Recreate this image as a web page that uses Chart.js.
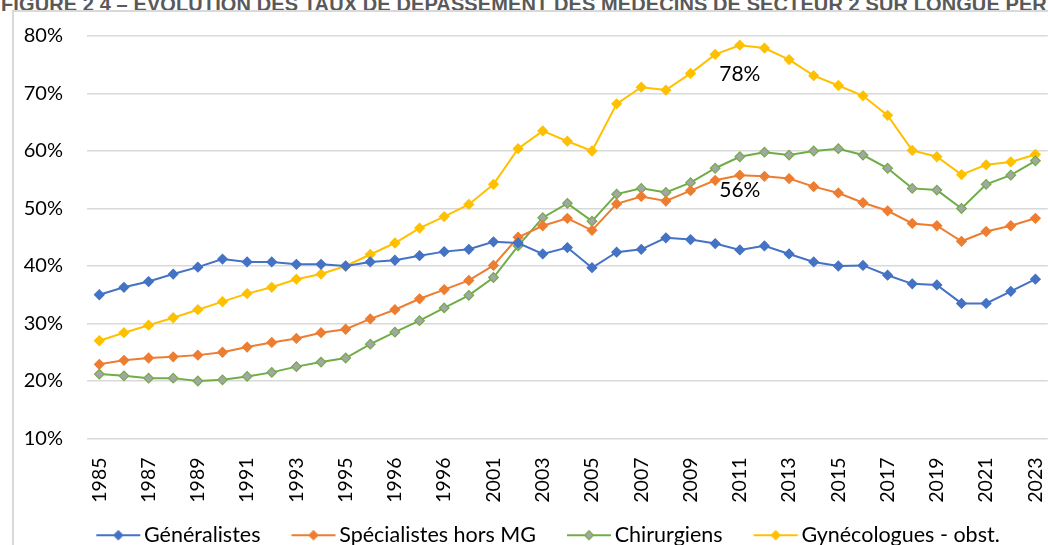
<!DOCTYPE html>
<html lang="fr">
<head>
<meta charset="utf-8">
<title>Taux de dépassement - secteur 2</title>
<script src="https://cdn.jsdelivr.net/npm/chart.js@4/dist/chart.umd.min.js"></script>
<style>
  html, body { margin: 0; padding: 0; background: #fff; overflow: hidden; width: 1048px; height: 545px; }
  #title {
    position: absolute; left: 1px; top: -7px; white-space: nowrap;
    font: bold 20px "Liberation Sans", Arial, sans-serif; color: #595959; letter-spacing: 0.1px;
  }
  #frame {
    position: absolute; left: 12px; top: 10px; width: 1100px; height: 600px;
    border-left: 2px solid #d9d9d9; border-top: 2px solid #d9d9d9;
  }
  #wrap { position: absolute; left: 0; top: 0; width: 1070px; height: 580px; }
</style>
</head>
<body>
<div id="title">FIGURE 2 4 – ÉVOLUTION DES TAUX DE DÉPASSEMENT DES MÉDECINS DE SECTEUR 2 SUR LONGUE PÉRIODE</div>
<div id="frame"></div>
<div id="wrap"><canvas id="chart"></canvas></div>
<script>
// Category labels (as printed on the original axis)
const years = [
  "1985", "1986", "1987", "1988", "1989", "1990", "1991", "1992", "1993", "1994",
  "1995", "1996", "1996", "1998", "1996", "2000", "2001", "2002", "2003", "2004",
  "2005", "2006", "2007", "2008", "2009", "2010", "2011", "2012", "2013", "2014",
  "2015", "2016", "2017", "2018", "2019", "2020", "2021", "2022", "2023"
];

// Taux de dépassement (%)
const generalistes = [35.0, 36.3, 37.3, 38.6, 39.8, 41.2, 40.7, 40.7, 40.3, 40.3,
  40.0, 40.7, 41.0, 41.8, 42.5, 42.9, 44.2, 44.0, 42.1, 43.2,
  39.7, 42.4, 42.9, 44.9, 44.6, 43.9, 42.8, 43.5, 42.1, 40.7,
  40.0, 40.1, 38.4, 36.9, 36.7, 33.5, 33.5, 35.6, 37.7];

const specialistes = [22.9, 23.6, 24.0, 24.2, 24.5, 25.0, 25.9, 26.7, 27.4, 28.4,
  29.0, 30.8, 32.4, 34.3, 35.9, 37.5, 40.1, 45.0, 47.0, 48.3,
  46.2, 50.8, 52.1, 51.3, 53.1, 54.9, 55.8, 55.6, 55.2, 53.8,
  52.7, 51.0, 49.6, 47.4, 47.0, 44.3, 46.0, 47.0, 48.3];

const chirurgiens = [21.2, 20.9, 20.5, 20.5, 20.0, 20.2, 20.8, 21.5, 22.5, 23.3,
  24.0, 26.4, 28.5, 30.5, 32.7, 34.9, 38.0, 43.5, 48.4, 50.9,
  47.8, 52.5, 53.5, 52.8, 54.5, 57.0, 59.0, 59.8, 59.3, 60.0,
  60.4, 59.3, 57.0, 53.5, 53.2, 50.0, 54.2, 55.8, 58.3];

const gynecologues = [27.0, 28.4, 29.7, 31.0, 32.4, 33.8, 35.2, 36.3, 37.7, 38.6,
  40.0, 42.0, 44.0, 46.6, 48.6, 50.7, 54.2, 60.4, 63.5, 61.7,
  60.0, 68.2, 71.1, 70.6, 73.5, 76.8, 78.4, 77.9, 75.9, 73.1,
  71.4, 69.6, 66.2, 60.1, 59.0, 55.9, 57.6, 58.1, 59.4];

// Y axis range
const yMin = 10;
const yMax = 80;
const yStep = 10;

// The year that carries a value label (2011)
const labelledIndex = 26;

const FONT = "Lato, 'Open Sans', sans-serif";

// Small line + diamond picture used in the legend
function legendSymbol(lineColor, fillColor) {
    const c = document.createElement("canvas");
    c.width = 46;
    c.height = 14;
    const g = c.getContext("2d");
    g.strokeStyle = lineColor;
    g.lineWidth = 2;
    g.beginPath();
    g.moveTo(1, 7);
    g.lineTo(45, 7);
    g.stroke();
    g.fillStyle = fillColor;
    g.beginPath();
    g.moveTo(23, 2.5);
    g.lineTo(27.5, 7);
    g.lineTo(23, 11.5);
    g.lineTo(18.5, 7);
    g.closePath();
    g.fill();
    g.lineWidth = 1.2;
    g.stroke();
    return c;
}

function series(label, data, line, fill, valueLabelOffset) {
    return {
        label: label,
        data: data,
        borderColor: line,
        backgroundColor: fill,
        pointBackgroundColor: fill,
        pointBorderColor: line,
        pointBorderWidth: 1.2,
        pointStyle: "rectRot",
        pointRadius: 4.8,
        borderWidth: 2,
        tension: 0,
        legendSymbol: legendSymbol(line, fill),
        valueLabelOffset: valueLabelOffset
    };
}

// Draws the two value labels under the 2011 points
const valueLabels = {
    id: "valueLabels",
    afterDatasetsDraw(chart) {
        const ctx = chart.ctx;
        ctx.save();
        ctx.font = "21px " + FONT;
        ctx.fillStyle = "#000";
        ctx.textAlign = "center";
        ctx.textBaseline = "middle";
        chart.data.datasets.forEach((ds, i) => {
            if (ds.valueLabelOffset == null) return;
            const pt = chart.getDatasetMeta(i).data[labelledIndex];
            const text = Math.round(ds.data[labelledIndex]) + "%";
            ctx.fillText(text, pt.x, pt.y + ds.valueLabelOffset);
        });
        ctx.restore();
    }
};

// Moves the legend row a little up and right, like in the original
const legendShift = {
    id: "legendShift",
    afterLayout(chart) {
        const legend = chart.legend;
        legend.left += 34;
        legend.top -= 22;
        legend.bottom -= 22;
    }
};

const ctx = document.getElementById("chart").getContext("2d");
new Chart(ctx, {
    type: "line",
    data: {
        labels: years,
        datasets: [
            series("Généralistes", generalistes, "#4472C4", "#4472C4", null),
            series("Spécialistes hors MG", specialistes, "#ED7D31", "#ED7D31", 15),
            series("Chirurgiens", chirurgiens, "#70AD47", "#A5A5A5", null),
            series("Gynécologues - obst.", gynecologues, "#FFC000", "#FFC000", 29)
        ]
    },
    options: {
        responsive: true,
        maintainAspectRatio: false,
        animation: false,
        layout: {
            padding: { left: 13, right: 14, top: 32, bottom: 2 }
        },
        scales: {
            x: {
                offset: true,
                grid: { display: false },
                border: { display: false },
                ticks: {
                    autoSkip: false,
                    maxRotation: 90,
                    minRotation: 90,
                    padding: 11,
                    color: "#000",
                    font: { family: FONT, size: 19.5 },
                    callback: (value, index) => (index % 2 === 0 ? years[index] : null)
                },
                afterFit: (scale) => { scale.height = 70; }
            },
            y: {
                min: yMin,
                max: yMax,
                border: { display: false },
                grid: { color: "#d9d9d9", lineWidth: 1.6, drawTicks: false },
                ticks: {
                    stepSize: yStep,
                    padding: 24,
                    color: "#000",
                    font: { family: FONT, size: 20 },
                    callback: (value) => value + "%"
                },
                afterFit: (scale) => { scale.width = 74; }
            }
        },
        plugins: {
            tooltip: { enabled: false },
            legend: {
                position: "bottom",
                labels: {
                    usePointStyle: true,
                    pointStyleWidth: 30,
                    padding: 38,
                    color: "#000",
                    font: { family: FONT, size: 21.5 },
                    generateLabels: (chart) => chart.data.datasets.map((ds, i) => ({
                        text: ds.label,
                        pointStyle: ds.legendSymbol,
                        fillStyle: ds.backgroundColor,
                        strokeStyle: ds.borderColor,
                        lineWidth: 0,
                        hidden: false,
                        datasetIndex: i
                    }))
                }
            }
        }
    },
    plugins: [valueLabels, legendShift]
});
</script>
</body>
</html>
